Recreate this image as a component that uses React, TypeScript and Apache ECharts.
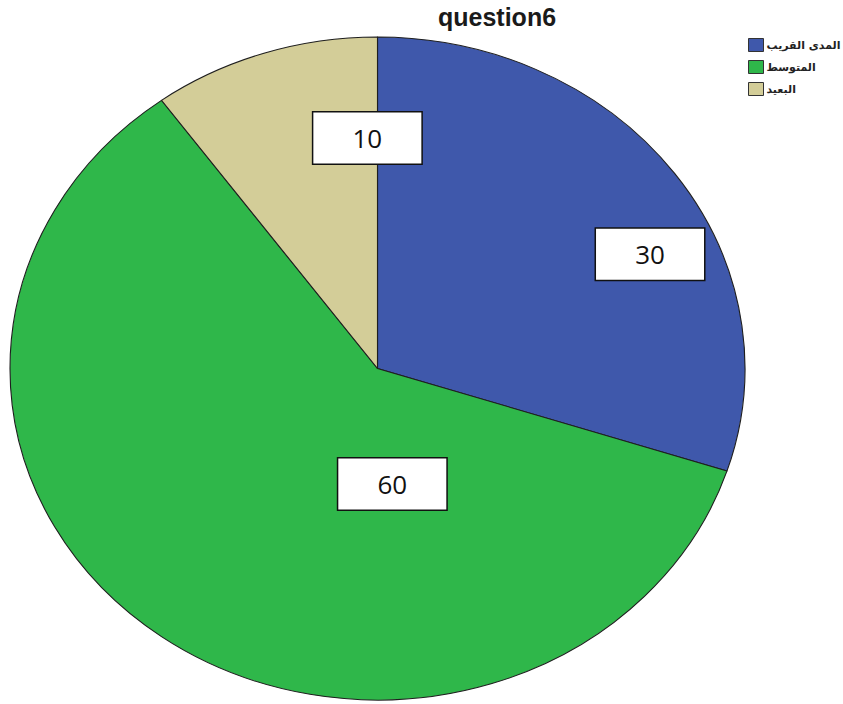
import React, { useEffect, useRef } from "react";
import * as echarts from "echarts";

const categories = ["المدى القريب", "المتوسط", "البعيد"];
const values = [30, 60, 10];
const colors = ["#3f58ab", "#2fb74a", "#d3cd98"];
const titleText = "question6";

// layout (not data)
const CX = 377.5;
const CY = 368.5;
const R = 331.5;
const SX = 1.1086; // horizontal stretch to make the pie elliptical
const labelOffsets = [
  [136, -15],
  [114, -21],
  [42, -70],
];

export default function App() {
  const pieRef = useRef<HTMLDivElement>(null);
  const overRef = useRef<HTMLDivElement>(null);

  useEffect(() => {
    const pie = echarts.init(pieRef.current!, null, { renderer: "svg" });
    pie.setOption({
      animation: false,
      series: [
        {
          type: "pie",
          center: [CX, CY],
          radius: R,
          startAngle: 90,
          clockwise: true,
          silent: true,
          label: { show: false },
          labelLine: { show: false },
          emphasis: { disabled: true },
          itemStyle: { borderColor: "#1e1e1e", borderWidth: 1 },
          data: categories.map((n, i) => ({
            name: n,
            value: values[i],
            itemStyle: { color: colors[i] },
          })),
        },
      ],
    });

    const over = echarts.init(overRef.current!, null, { renderer: "svg" });
    over.setOption({
      animation: false,
      title: {
        text: titleText,
        left: 438,
        top: 4,
        padding: 0,
        textStyle: {
          fontFamily: "Liberation Sans",
          fontWeight: "bold",
          fontSize: 25,
          color: "#1a1a1a",
        },
      },
      legend: {
        orient: "vertical",
        left: 748,
        top: 38,
        padding: 0,
        itemWidth: 15,
        itemHeight: 13,
        itemGap: 8,
        icon: "rect",
        selectedMode: false,
        textStyle: {
          fontFamily: "DejaVu Sans",
          fontSize: 11,
          fontWeight: "bold",
          color: "#222",
          padding: [0, 0, 0, -2],
        },
        data: categories.map((n, i) => ({
          name: n,
          itemStyle: { color: colors[i], borderColor: "#333", borderWidth: 1 },
        })),
      },
      series: [
        {
          type: "pie",
          center: [CX, CY],
          radius: R,
          startAngle: 90,
          clockwise: true,
          silent: true,
          emphasis: { disabled: true },
          itemStyle: { color: "rgba(0,0,0,0)", borderWidth: 0 },
          labelLine: { show: false },
          label: {
            show: true,
            position: "inside",
            formatter: "{c}",
            fontFamily: "Open Sans",
            fontSize: 26,
            color: "#111",
            backgroundColor: "#fff",
            borderColor: "#111",
            borderWidth: 1.5,
            width: 108,
            height: 51,
            lineHeight: 51,
            align: "center",
            verticalAlign: "middle",
            padding: 0,
          },
          labelLayout: (p: any) => ({
            dx: labelOffsets[p.dataIndex][0],
            dy: labelOffsets[p.dataIndex][1],
          }),
          data: categories.map((n, i) => ({
            name: n,
            value: values[i],
          })),
        },
      ],
    });

    return () => {
      pie.dispose();
      over.dispose();
    };
  }, []);

  return (
    <div
      style={{
        position: "fixed",
        left: 0,
        top: 0,
        width: 843,
        height: 704,
        background: "#fff",
        overflow: "hidden",
      }}
    >
      <div
        ref={pieRef}
        style={{
          position: "absolute",
          left: 0,
          top: 0,
          width: 843,
          height: 704,
          transform: `scaleX(${SX})`,
          transformOrigin: `${CX}px ${CY}px`,
        }}
      />
      <div
        ref={overRef}
        style={{ position: "absolute", left: 0, top: 0, width: 843, height: 704 }}
      />
    </div>
  );
}
